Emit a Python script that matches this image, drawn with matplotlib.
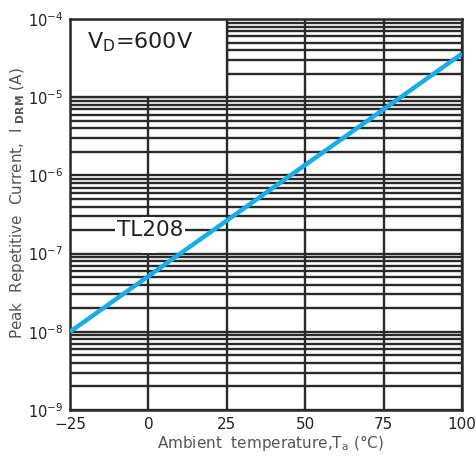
import numpy as np
import matplotlib
matplotlib.use("Agg")
import matplotlib.pyplot as plt
from matplotlib.patches import Rectangle
from matplotlib.ticker import FixedLocator, LogLocator, NullFormatter, FuncFormatter

# Data
temps = [-25, 100]
idrm = [1.0e-8, 3.6e-5]
xticks = [-25, 0, 25, 50, 75, 100]
series_label = "TL208"
cond_label = "V$_\\mathregular{D}$=600V"

plt.rcParams['font.family'] = ['DejaVu Sans']
plt.rcParams['mathtext.fontset'] = 'custom'
plt.rcParams['mathtext.rm'] = 'DejaVu Sans'
plt.rcParams['mathtext.bf'] = 'DejaVu Sans:bold'

fig = plt.figure(figsize=(4.76, 4.61), dpi=100)
ax = fig.add_axes([70/476, 1-410/461, 392/476, 391/461])

gc = '#2a2a2a'
ax.set_xlim(-25, 100)
ax.set_ylim(1e-9, 1e-4)
ax.set_yscale('log')
ax.xaxis.set_major_locator(FixedLocator(xticks))
ax.yaxis.set_major_locator(LogLocator(base=10, numticks=10))
ax.yaxis.set_major_formatter(FuncFormatter(
    lambda v, p: "$\\mathregular{10^{%d}}$" % int(round(np.log10(v)))))
ax.yaxis.set_minor_locator(LogLocator(base=10, subs=np.arange(2, 10), numticks=20))
ax.yaxis.set_minor_formatter(NullFormatter())
ax.grid(True, which='both', axis='y', color=gc, lw=1.7, zorder=1)
ax.grid(True, which='major', axis='x', color=gc, lw=1.7, zorder=1)
ax.set_axisbelow(True)
ax.tick_params(which='both', length=0, labelsize=11, colors='#222222')
ax.tick_params(axis='y', pad=5, labelsize=10.5)
ax.tick_params(axis='x', pad=5)
ax.xaxis.get_offset_text().set_visible(False)
ax.yaxis.get_offset_text().set_visible(False)
for s in ax.spines.values():
    s.set_color(gc)
    s.set_linewidth(1.8)

# white box for condition label (covers top-left grid decade)
ax.add_patch(Rectangle((-25, 1e-5), 50, 9e-5, facecolor='white', edgecolor=gc,
                       lw=1.7, zorder=1.5))
ax.text(-19.5, 5.1e-5, cond_label, fontsize=16, color='#222222', ha='left', va='center',
        zorder=3)

# gap in the vertical 0 gridline around series label
ax.add_patch(Rectangle((-2, 1.02e-7), 4, 1.95e-7, facecolor='white', edgecolor='none',
                       zorder=1.5))

ax.plot(temps, idrm, color='#17ade8', lw=3.2, zorder=4, solid_capstyle='butt')

ax.text(0.5, 2.0e-7, series_label, fontsize=15.5, color='#222222', ha='center', va='center',
        zorder=3, bbox=dict(facecolor='white', edgecolor='none', pad=1.5))

ax.set_xlabel("Ambient  temperature,T$_\\mathregular{a}$ (°C)", fontsize=11,
              color='#555555')
ax.xaxis.set_label_coords((271-70)/392, (410-443)/391)
ax.xaxis.label.set_va('center')
ax.set_ylabel("Peak  Repetitive  Current,  I $_{\\mathbf{DRM}}$ (A)", fontsize=11,
              color='#555555')
ax.yaxis.set_label_coords((18-70)/392, (410-203)/391)
ax.yaxis.label.set_va('center')

fig.savefig("out.png", dpi=100)
